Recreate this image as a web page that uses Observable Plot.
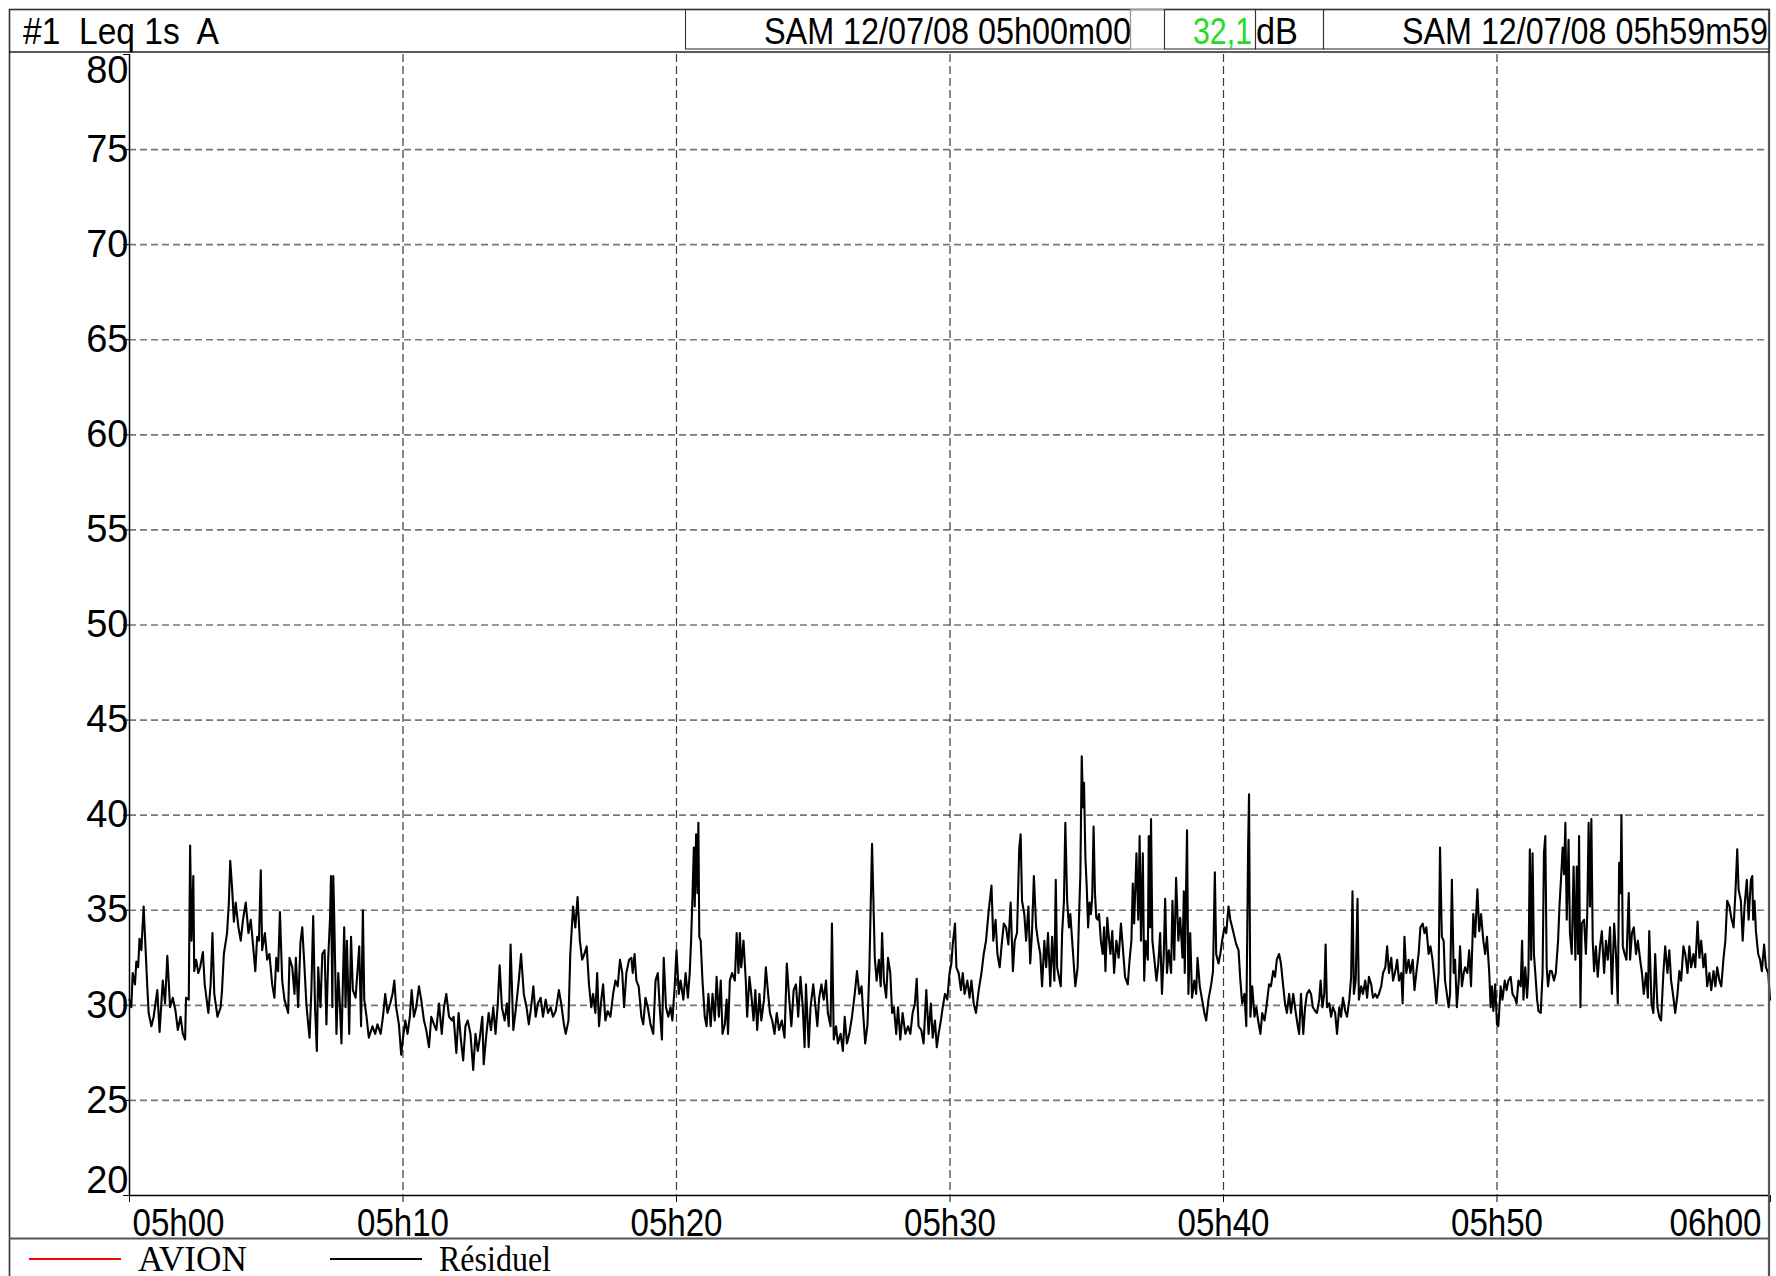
<!DOCTYPE html>
<html>
<head>
<meta charset="utf-8">
<script src="https://cdn.jsdelivr.net/npm/d3@7"></script>
<script src="https://cdn.jsdelivr.net/npm/@observablehq/plot@0.6"></script>
<style>
  html, body { margin: 0; padding: 0; background: #fff; }
  #wrap { position: relative; width: 1776px; height: 1276px; overflow: hidden; background: #fff; }
  #wrap > svg { position: absolute; }
</style>
</head>
<body>
<div id="wrap"></div>
<script>
// ---------- texts ----------
const headerLeft = "#1  Leq 1s  A";
const startStamp = "SAM 12/07/08 05h00m00";
const endStamp = "SAM 12/07/08 05h59m59";
const overallLeq = "32,1";
const unitLabel = "dB";
const legendLabels = ["AVION", "Résiduel"];
const legendColors = ["#ff0000", "#000000"];

// ---------- axes ----------
const yTickValues = [20, 25, 30, 35, 40, 45, 50, 55, 60, 65, 70, 75, 80];
const xTickSeconds = [0, 600, 1200, 1800, 2400, 3000, 3600];
const xTickLabels = ["05h00", "05h10", "05h20", "05h30", "05h40", "05h50", "06h00"];

// ---------- data: [seconds after 05h00m00, Leq 1s dB(A)] ----------
const leq0500to0512 = [[0,30.3],[4,29.9],[7,31.7],[12,31.1],[15,32.3],[19,32.0],[22,33.5],[26,32.9],[31,35.2],[35,33.1],[39,31.0],[42,29.6],[48,28.9],[53,29.4],[61,30.8],[66,28.6],[73,31.3],[78,30.1],[83,32.6],[89,29.9],[95,30.4],[101,29.7],[106,28.7],[112,29.4],[117,28.5],[122,28.2],[124,30.4],[130,30.3],[133,38.4],[136,33.4],[140,36.8],[142,31.8],[146,32.4],[151,31.7],[155,32.0],[161,32.8],[165,31.1],[173,29.6],[178,31.1],[182,33.8],[186,30.6],[193,29.4],[200,29.9],[203,30.8],[207,32.7],[214,33.8],[218,35.4],[221,37.6],[225,36.2],[229,34.4],[233,35.4],[239,34.1],[244,33.4],[249,34.5],[255,35.4],[261,33.8],[266,34.5],[272,32.9],[276,31.8],[280,33.6],[284,33.4],[288,37.1],[291,32.9],[297,33.8],[302,32.4],[307,32.7],[313,31.1],[318,30.4],[322,32.5],[326,31.8],[330,34.9],[335,31.3],[340,30.3],[348,29.6],[351,32.5],[357,32.0],[362,30.6],[365,32.5],[370,29.9],[375,33.3],[379,34.1],[383,32.4],[388,30.1],[392,29.0],[395,28.3],[399,30.8],[403,34.7],[407,29.9],[411,27.6],[414,32.0],[419,29.9],[423,32.7],[428,32.9],[432,29.0],[436,32.5],[440,34.6],[442,36.8],[445,29.9],[447,36.8],[449,34.8],[454,28.5],[458,31.7],[461,30.3],[465,28.0],[471,34.1],[474,29.9],[477,33.4],[482,28.5],[486,33.6],[490,30.8],[496,30.4],[504,33.1],[508,28.9],[512,35.0],[515,30.3],[520,29.4],[525,28.3],[533,28.9],[539,28.5],[544,29.0],[551,28.5],[556,29.4],[561,30.6],[566,29.6],[572,30.1],[577,30.6],[581,31.3],[585,29.9],[591,29.0],[596,27.4],[600,28.3],[605,29.2],[610,28.5],[615,29.4],[619,30.8],[624,29.4],[629,29.9],[635,31.0],[640,30.3],[646,29.2],[651,28.7],[657,27.8],[662,29.4],[668,29.0],[673,28.7],[679,30.1],[685,28.5],[690,29.9],[695,30.6],[701,29.4],[708,29.2]];

const leq0512to0524 = [[711,29.4],[717,27.5],[722,29.6],[727,28.2],[732,27.1],[737,28.9],[742,29.2],[748,28.5],[754,26.6],[759,28.5],[764,27.6],[768,28.2],[774,29.4],[777,26.9],[783,28.5],[788,29.6],[793,28.7],[798,29.9],[803,28.5],[808,30.1],[812,32.1],[817,29.9],[823,29.2],[828,30.1],[832,28.9],[836,33.2],[842,28.7],[847,29.7],[854,31.3],[859,32.7],[865,30.6],[871,29.9],[876,29.0],[881,29.9],[886,31.0],[891,29.4],[896,30.1],[902,30.4],[907,29.4],[913,30.3],[918,29.6],[924,29.9],[929,29.4],[935,29.7],[942,30.8],[947,30.1],[953,29.0],[957,28.5],[963,29.2],[967,32.7],[973,35.2],[978,34.1],[983,35.7],[988,33.4],[993,32.4],[998,32.7],[1003,33.1],[1008,31.1],[1013,29.9],[1017,30.6],[1022,29.6],[1026,31.7],[1030,28.9],[1035,30.3],[1039,31.1],[1044,29.2],[1049,29.7],[1055,29.4],[1061,30.6],[1066,31.3],[1071,31.0],[1076,32.4],[1081,31.7],[1085,29.9],[1090,31.7],[1096,32.4],[1101,32.5],[1104,31.7],[1108,32.7],[1112,31.3],[1117,31.0],[1123,29.4],[1127,29.0],[1132,30.4],[1137,29.9],[1143,29.0],[1149,28.5],[1154,31.3],[1159,31.7],[1164,29.6],[1168,28.2],[1172,32.5],[1177,29.9],[1182,29.4],[1187,29.9],[1191,29.2],[1196,31.0],[1200,32.9],[1205,30.6],[1209,31.3],[1215,30.3],[1220,31.7],[1225,30.4],[1229,31.7],[1232,33.4],[1235,35.7],[1238,38.3],[1240,35.2],[1243,39.0],[1246,35.9],[1248,39.6],[1250,33.6],[1253,33.4],[1257,31.3],[1262,29.4],[1266,28.9],[1270,30.6],[1275,28.9],[1279,30.6],[1284,29.2],[1288,31.5],[1293,29.4],[1297,31.3],[1301,28.5],[1306,29.0],[1310,30.3],[1313,28.5],[1317,31.3],[1322,31.7],[1328,31.3],[1332,33.8],[1336,31.7],[1339,33.8],[1342,32.0],[1347,33.4],[1352,31.3],[1355,29.4],[1360,31.5],[1364,30.6],[1369,29.2],[1373,30.8],[1377,28.7],[1382,30.6],[1386,29.2],[1392,30.3],[1396,32.0],[1401,30.6],[1405,29.6],[1410,29.2],[1415,28.5],[1420,29.6],[1425,28.7]];

const leq0524to0536 = [[1431,29.2],[1437,28.3],[1442,32.2],[1448,30.1],[1452,28.9],[1457,30.8],[1462,31.1],[1467,29.4],[1472,31.5],[1477,29.9],[1481,27.8],[1484,31.1],[1490,27.8],[1494,29.9],[1500,31.1],[1505,29.9],[1509,28.9],[1513,30.4],[1518,31.1],[1523,30.3],[1528,31.3],[1532,29.6],[1538,28.9],[1541,34.3],[1545,28.2],[1550,28.9],[1554,28.0],[1560,28.5],[1565,27.6],[1569,29.4],[1574,28.0],[1579,28.5],[1585,29.4],[1591,30.6],[1596,31.8],[1601,30.6],[1606,31.0],[1610,29.4],[1614,28.0],[1619,29.0],[1623,31.8],[1626,35.2],[1629,38.5],[1632,35.5],[1635,32.5],[1639,31.3],[1644,32.4],[1648,31.0],[1651,33.8],[1655,31.3],[1660,30.4],[1664,32.5],[1669,31.7],[1673,29.6],[1677,29.9],[1682,28.5],[1686,29.9],[1691,28.2],[1696,29.6],[1702,28.5],[1708,28.9],[1713,28.5],[1718,29.6],[1723,30.1],[1727,31.4],[1731,28.9],[1737,28.7],[1742,28.0],[1748,30.8],[1753,28.5],[1758,30.1],[1762,28.3],[1767,29.2],[1771,27.8],[1775,28.5],[1780,29.2],[1784,29.9],[1789,30.6],[1794,30.3],[1799,31.7],[1803,32.2],[1806,33.2],[1811,34.3],[1814,32.0],[1819,31.7],[1824,30.8],[1828,31.7],[1832,30.6],[1838,31.3],[1843,30.4],[1847,31.3],[1852,30.1],[1857,29.6],[1863,30.8],[1869,31.7],[1874,32.7],[1879,33.4],[1885,35.0],[1891,36.3],[1895,33.4],[1900,34.5],[1904,32.7],[1909,32.0],[1913,33.1],[1918,34.3],[1923,34.1],[1928,33.2],[1933,35.4],[1938,31.8],[1942,33.4],[1947,33.8],[1952,38.3],[1955,39.0],[1958,35.5],[1963,34.8],[1967,33.4],[1972,35.2],[1976,32.2],[1980,33.9],[1984,36.8],[1989,34.1],[1993,33.4],[1998,32.7],[2002,31.0],[2007,33.4],[2011,32.0],[2015,33.8],[2020,31.0],[2024,33.6],[2029,31.3],[2032,36.6],[2035,32.0],[2039,31.5],[2043,31.0],[2046,33.8],[2050,35.5],[2053,39.6],[2057,35.5],[2061,34.1],[2064,34.8],[2068,33.4],[2072,32.0],[2075,31.0],[2080,32.0],[2083,34.6],[2086,36.9],[2089,43.1],[2092,40.4],[2094,41.7],[2097,37.8],[2100,36.2],[2103,34.1],[2106,35.4],[2109,34.8],[2112,35.7],[2115,39.4],[2118,35.9],[2121,34.6],[2124,34.5],[2127,34.8],[2131,33.4],[2135,32.7],[2138,34.1],[2141,31.8],[2145,34.6],[2149,33.4]];

const leq0536to0548 = [[2152,32.7],[2156,33.9],[2160,31.7],[2165,33.4],[2170,32.5],[2175,34.3],[2179,33.1],[2184,31.5],[2190,31.1],[2194,32.4],[2198,33.4],[2201,36.4],[2204,34.3],[2209,38.0],[2213,34.5],[2216,38.9],[2219,33.4],[2223,38.0],[2226,31.3],[2229,33.4],[2234,32.4],[2236,38.9],[2239,34.1],[2241,39.8],[2244,33.4],[2248,32.5],[2253,31.3],[2257,32.2],[2261,33.8],[2265,30.6],[2269,32.7],[2272,35.6],[2276,31.7],[2280,32.9],[2285,31.7],[2288,35.5],[2292,32.4],[2296,36.7],[2301,33.4],[2305,34.6],[2310,32.5],[2313,36.0],[2315,31.7],[2320,39.2],[2323,30.6],[2327,33.8],[2331,30.4],[2336,31.3],[2340,30.6],[2343,32.5],[2348,31.0],[2353,30.3],[2358,29.6],[2362,29.2],[2367,30.3],[2373,31.1],[2377,31.8],[2381,37.0],[2384,32.7],[2389,32.2],[2393,32.7],[2397,33.4],[2402,34.1],[2406,33.8],[2411,35.2],[2415,34.5],[2419,34.1],[2424,33.6],[2428,33.2],[2433,32.9],[2437,31.3],[2441,30.1],[2446,30.6],[2450,28.9],[2454,38.3],[2456,41.1],[2459,29.4],[2463,31.0],[2468,29.4],[2472,29.9],[2476,29.2],[2481,28.5],[2485,29.6],[2490,29.2],[2494,29.9],[2500,31.1],[2504,31.0],[2509,31.8],[2513,31.5],[2517,32.4],[2522,32.7],[2526,32.2],[2531,31.0],[2535,30.1],[2539,29.6],[2544,30.6],[2548,29.6],[2553,30.6],[2558,29.7],[2563,28.9],[2566,28.5],[2570,30.6],[2575,28.5],[2579,29.9],[2583,30.6],[2588,30.8],[2592,30.6],[2596,29.9],[2601,29.7],[2605,29.6],[2610,30.3],[2613,31.3],[2617,29.9],[2621,30.6],[2624,33.2],[2627,29.9],[2632,30.1],[2636,29.4],[2640,29.9],[2645,29.6],[2649,28.5],[2654,29.9],[2658,29.4],[2662,30.4],[2667,29.7],[2671,29.4],[2676,30.3],[2680,31.5],[2683,36.0],[2686,30.6],[2690,31.3],[2694,35.6],[2697,30.3],[2702,31.0],[2706,30.6],[2711,31.3],[2715,30.4],[2719,31.5],[2724,31.1],[2728,30.4],[2733,30.6],[2737,30.4],[2741,30.6],[2746,31.0],[2750,31.7],[2755,32.0],[2759,33.1],[2763,31.7],[2768,32.5],[2772,31.3],[2777,31.8],[2781,32.4],[2785,31.3],[2790,31.7],[2793,30.1],[2797,33.6],[2801,31.7],[2806,32.4],[2810,31.7],[2815,32.4],[2819,30.8],[2823,31.7],[2828,32.7],[2832,34.1],[2837,34.3],[2841,33.8],[2845,34.1],[2850,32.7],[2854,33.1],[2858,32.5],[2863,31.3],[2867,30.1]];

const leq0548to0600 = [[2872,31.7],[2875,38.3],[2879,33.6],[2883,33.4],[2886,31.3],[2890,30.6],[2894,29.9],[2897,30.6],[2901,36.6],[2905,31.7],[2908,32.4],[2912,29.9],[2916,31.3],[2919,33.1],[2923,31.0],[2927,31.7],[2930,32.0],[2935,31.7],[2939,32.9],[2943,31.0],[2948,34.8],[2952,33.6],[2957,36.1],[2961,33.9],[2965,34.8],[2970,33.4],[2974,32.7],[2978,33.6],[2983,31.7],[2986,29.9],[2989,31.0],[2992,29.7],[2996,31.1],[3000,29.0],[3003,28.9],[3008,31.0],[3012,30.3],[3017,31.3],[3021,30.8],[3025,31.3],[3030,31.5],[3034,30.6],[3039,30.4],[3043,30.1],[3047,31.3],[3052,31.0],[3055,33.4],[3058,30.3],[3062,32.0],[3066,30.4],[3069,31.7],[3072,38.2],[3075,32.4],[3078,38.0],[3081,32.7],[3084,31.7],[3088,30.3],[3091,29.7],[3096,29.6],[3100,31.7],[3103,38.0],[3106,38.9],[3109,32.0],[3112,31.0],[3116,31.8],[3120,31.8],[3125,31.3],[3129,31.7],[3134,33.4],[3137,35.2],[3141,36.9],[3144,38.3],[3147,36.9],[3150,39.6],[3153,34.5],[3157,38.7],[3160,33.8],[3164,32.7],[3168,37.3],[3172,32.4],[3175,37.3],[3178,32.7],[3180,38.9],[3183,29.9],[3186,34.3],[3191,34.5],[3195,32.7],[3198,34.8],[3201,39.6],[3204,35.2],[3207,39.8],[3210,33.4],[3213,31.8],[3217,33.1],[3221,31.5],[3226,33.1],[3230,33.9],[3235,31.7],[3239,33.4],[3243,32.4],[3248,34.1],[3252,30.6],[3257,34.3],[3261,32.7],[3265,30.1],[3268,37.5],[3271,35.9],[3273,40.0],[3276,33.1],[3280,32.7],[3284,32.4],[3289,35.9],[3292,32.4],[3296,33.8],[3300,34.1],[3305,32.7],[3309,33.4],[3314,32.4],[3318,31.7],[3322,30.6],[3327,31.7],[3331,30.4],[3334,33.9],[3339,30.1],[3343,29.6],[3347,32.7],[3352,29.9],[3356,29.4],[3360,29.2],[3365,31.7],[3369,33.1],[3374,31.7],[3378,32.9],[3382,31.3],[3387,30.4],[3391,29.6],[3396,30.6],[3400,31.8],[3404,31.3],[3409,33.1],[3413,32.7],[3418,31.7],[3422,33.1],[3426,32.0],[3431,32.7],[3435,32.0],[3440,34.4],[3444,32.5],[3448,33.4],[3453,32.0],[3457,32.7],[3461,31.0],[3466,31.7],[3470,30.8],[3475,31.8],[3479,31.0],[3483,32.0],[3488,31.3],[3492,31.0],[3497,32.5],[3501,33.4],[3505,35.5],[3510,35.2],[3514,34.6],[3519,34.1],[3523,35.9],[3527,38.2],[3530,36.1],[3535,35.5],[3539,33.4],[3543,35.2],[3548,36.6],[3552,34.5],[3557,36.6],[3560,36.8],[3562,34.5],[3565,35.5],[3568,33.9],[3573,32.7],[3577,32.4],[3581,31.8],[3586,33.2],[3590,32.0],[3595,31.7],[3599,30.3]];

// ---------- build table ----------
const samples = [leq0500to0512, leq0512to0524, leq0524to0536, leq0536to0548, leq0548to0600]
  .flat()
  .map(([s, db]) => ({s, db}));

const xTicks = xTickSeconds.map((s, i) => ({s, label: xTickLabels[i]}));
const yMid = yTickValues.slice(1, -1);
const yTop = [yTickValues[yTickValues.length - 1]];
const yBottom = [yTickValues[0]];
const xMid = xTicks.slice(1, -1);
const xFirst = [xTicks[0]];
const xLast = [xTicks[xTicks.length - 1]];
const hGrid = yTickValues.slice(1, -1);
const vGrid = xTickSeconds.slice(1, -1);

const FONT = "'Liberation Sans', Arial, sans-serif";
const labelSize = 38;

const yLabel = (data, dy) => Plot.text(data, {
  y: d => d, text: d => String(d), frameAnchor: "left", lineAnchor: "middle",
  textAnchor: "end", dx: -1, dy, fontSize: labelSize
});
const xLabel = (data, anchor, dx) => Plot.text(data, {
  x: "s", text: "label", frameAnchor: "bottom", lineAnchor: "middle",
  textAnchor: anchor, dx, dy: 28, fontSize: labelSize
});

const chart = Plot.plot({
  width: 1761,
  height: 1187,
  marginLeft: 120,
  marginRight: 0,
  marginTop: 3,
  marginBottom: 43,
  style: {fontFamily: FONT, fontSize: "38px", color: "#000", background: "transparent", overflow: "visible"},
  x: {domain: [0, 3600], axis: "bottom", ticks: xTickSeconds, tickSize: 7, tickFormat: () => "", label: null},
  y: {domain: [20, 80], axis: "left", ticks: yTickValues, tickSize: 6, tickFormat: () => "", label: null},
  marks: [
    Plot.ruleY(hGrid, {stroke: "#777", strokeWidth: 1.6, strokeDasharray: "7,4"}),
    Plot.ruleX(vGrid, {stroke: "#3a3a3a", strokeWidth: 1.2, strokeDasharray: "8,4"}),
    Plot.line(samples, {x: "s", y: "db", stroke: legendColors[1], strokeWidth: 2.1}),
    Plot.ruleX([0], {stroke: "#000", strokeWidth: 1.5}),
    Plot.ruleY([20], {stroke: "#000", strokeWidth: 1.5}),
    yLabel(yMid, 0),
    yLabel(yTop, 16),
    yLabel(yBottom, -15),
    xLabel(xMid, "middle", 0),
    xLabel(xFirst, "start", 3),
    xLabel(xLast, "end", -9)
  ]
});
chart.style.left = "9px";
chart.style.top = "51px";
const wrap = document.getElementById("wrap");
wrap.appendChild(chart);

// condensed time labels like the reference
d3.select(chart).selectAll("text")
  .filter(function() { return /^\d\dh\d\d$/.test(this.textContent); })
  .attr("textLength", 92).attr("lengthAdjust", "spacingAndGlyphs");

// ---------- frame, header and legend ----------
const deco = d3.select(wrap).append("svg")
  .attr("width", 1776).attr("height", 1276)
  .style("left", "0px").style("top", "0px")
  .style("font-family", FONT);

// outer frame
deco.append("rect").attr("x", 9.5).attr("y", 9.5).attr("width", 1759.5).attr("height", 1300)
  .attr("fill", "none").attr("stroke", "#333").attr("stroke-width", 1.6);
deco.append("line").attr("x1", 1769).attr("x2", 1769).attr("y1", 9).attr("y2", 1276)
  .attr("stroke", "#555").attr("stroke-width", 2.2);
// header bottom / plot top
deco.append("line").attr("x1", 9).attr("x2", 1770).attr("y1", 52).attr("y2", 52)
  .attr("stroke", "#222").attr("stroke-width", 1.6);
// header boxes
const box = (x, w, stroke) => deco.append("rect").attr("x", x + 0.5).attr("y", 9.5).attr("width", w).attr("height", 39.5)
  .attr("fill", "none").attr("stroke", stroke).attr("stroke-width", 1.1);
box(685, 445, "#333");
box(1130, 34, "#999");
box(1164, 91, "#333");
box(1255, 68, "#333");
box(1323, 446, "#333");

const htext = (str, x, anchor, len, color) => deco.append("text")
  .attr("x", x).attr("y", 44).attr("text-anchor", anchor)
  .attr("font-size", 37).attr("fill", color || "#000")
  .attr("xml:space", "preserve").style("white-space", "pre")
  .attr("textLength", len).attr("lengthAdjust", "spacingAndGlyphs")
  .text(str);
htext(headerLeft, 23, "start", 196);
htext(startStamp, 1131, "end", 367);
htext(overallLeq, 1193, "start", 59, "#22dd22");
htext(unitLabel, 1256, "start", 42);
htext(endStamp, 1768, "end", 366);

// legend separator
deco.append("line").attr("x1", 9).attr("x2", 1770).attr("y1", 1238.5).attr("y2", 1238.5)
  .attr("stroke", "#555").attr("stroke-width", 2);

const legendX = [29, 330];
const legendTextLen = [109, 112];
legendLabels.forEach((lab, i) => {
  deco.append("line").attr("x1", legendX[i]).attr("x2", legendX[i] + 92)
    .attr("y1", 1259).attr("y2", 1259).attr("stroke", legendColors[i]).attr("stroke-width", 1.8);
  deco.append("text").attr("x", legendX[i] + 109).attr("y", 1271)
    .attr("font-family", "'Liberation Serif', 'Times New Roman', serif")
    .attr("font-size", 36).attr("fill", "#000")
    .attr("textLength", legendTextLen[i]).attr("lengthAdjust", "spacingAndGlyphs")
    .text(lab);
});
</script>
</body>
</html>
